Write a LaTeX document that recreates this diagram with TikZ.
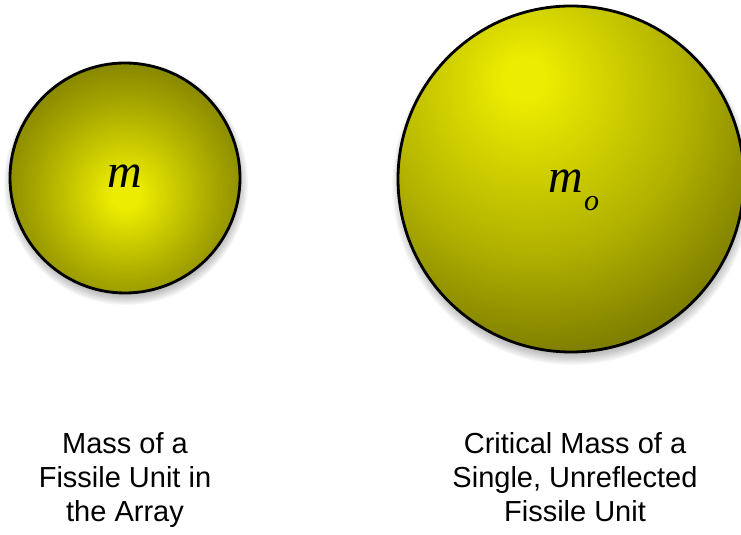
\documentclass[tikz,border=0pt]{standalone}
\usepackage{fontspec}
\setmainfont{Liberation Serif}
\newfontfamily\labelfont{Liberation Sans}
\usetikzlibrary{calc}
\definecolor{hlyellow}{RGB}{236,236,0}
\definecolor{smallmid}{RGB}{168,168,0}
\definecolor{smalledge}{RGB}{96,96,0}
\definecolor{bigmid}{RGB}{178,178,0}
\definecolor{bigedge}{RGB}{60,60,0}
\pgfdeclareradialshading{sphsmall}{\pgfpoint{0bp}{-4bp}}{%
  color(0bp)=(hlyellow); color(3bp)=(hlyellow); color(19bp)=(smallmid); color(38bp)=(smalledge); color(80bp)=(smalledge)}
\pgfdeclareradialshading{sphbig}{\pgfpoint{-7bp}{15bp}}{%
  color(0bp)=(hlyellow); color(3bp)=(hlyellow); color(22bp)=(bigmid); color(52bp)=(bigedge); color(100bp)=(bigedge)}
\tikzset{
  sphere/.style={circle, draw=black, line width=2.8pt, inner sep=0pt},
  masslabel/.style={font=\fontsize{48}{48}\selectfont\itshape, inner sep=0pt, anchor=base},
  sublabel/.style={font=\fontsize{30}{30}\selectfont\itshape, inner sep=0pt, anchor=base west},
  caption/.style={font=\labelfont\fontsize{29}{34}\selectfont, align=center, inner sep=0pt, anchor=base}
}
\begin{document}
\begin{tikzpicture}[x=1pt,y=1pt]
\useasboundingbox (0,0) rectangle (741,535);
% soft shadows
\foreach \k in {0,...,9} {
  \fill[black, opacity=0.03] (126,352) circle ({112+\k*1.1});
  \fill[black, opacity=0.03] (572,350) circle ({169+\k*1.2});
}
\node[sphere, minimum size=230pt, shading=sphsmall] (small) at (125,357) {};
\node[sphere, minimum size=346pt, shading=sphbig] (big) at (571,356) {};
\node[masslabel] (m1) at (125,347) {m};
\node[masslabel] (m2) at (565.5,342) {m};
\node[sublabel] (o2) at (584,324) {o};
\node[caption] (cap1) at (125,13) {Mass of a\\Fissile Unit in\\the Array};
\node[caption] (cap2) at (575,13) {Critical Mass of a\\Single, Unreflected\\Fissile Unit};
\end{tikzpicture}
\end{document}
